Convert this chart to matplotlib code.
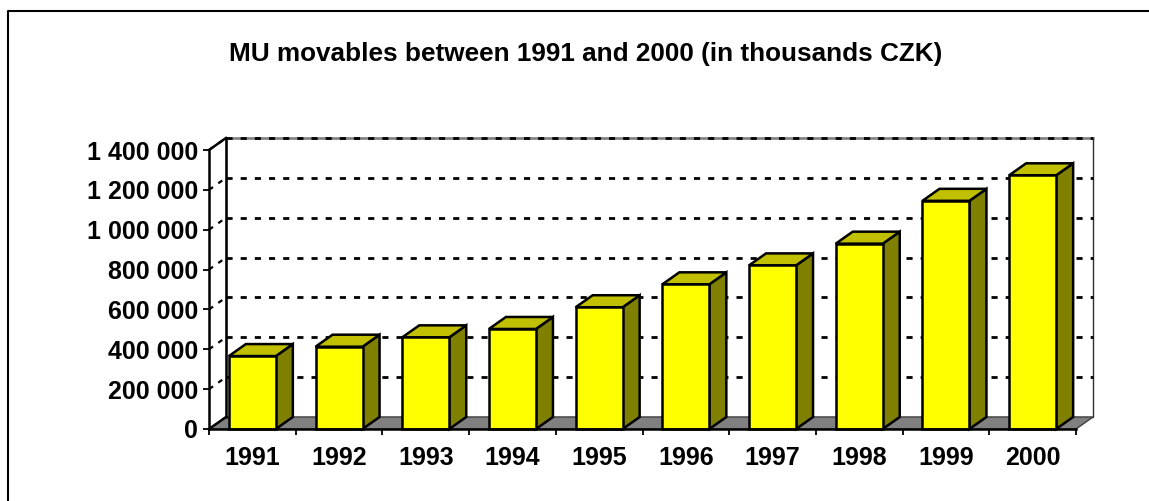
import numpy as np
import matplotlib
matplotlib.use("Agg")
import matplotlib.pyplot as plt
from matplotlib.patches import Polygon, Rectangle
from matplotlib.lines import Line2D
from matplotlib.ticker import FuncFormatter

# data (thousands CZK)
years = ["1991", "1992", "1993", "1994", "1995", "1996", "1997", "1998", "1999", "2000"]
values = [366000, 413000, 460000, 502000, 611000, 726000, 821000, 930000, 1145000, 1273000]
y_ticks = [0, 200000, 400000, 600000, 800000, 1000000, 1200000, 1400000]
title = "MU movables between 1991 and 2000 (in thousands CZK)"

W, H = 1149, 501
plt.rcParams["font.family"] = ["Liberation Sans", "DejaVu Sans"]
plt.rcParams["font.weight"] = "bold"

fig = plt.figure(figsize=(W / 100, H / 100), dpi=100)
ax = fig.add_axes([209 / W, (H - 429) / H, 867 / W, 279 / H])
n = len(years)
ymax = y_ticks[-1]
ax.set_xlim(0, n)
ax.set_ylim(0, ymax)
ax.patch.set_visible(False)

# fake 3d depth, in data units
dx = 17 / (867 / n)
dy = 12 * ymax / 279

yellow = "#ffff00"
top_col = "#c0c000"
side_col = "#808000"
floor_col = "#808080"
edge_lw = 1.8
dash = (0, (2.2, 2.9))

# left wall
ax.add_patch(Polygon([(0, 0), (0, ymax), (dx, ymax + dy), (dx, dy)],
                     closed=True, facecolor="white", edgecolor="none", zorder=1, clip_on=False))
ax.plot([0, dx], [ymax, ymax + dy], color="black", lw=edge_lw, zorder=3, clip_on=False)

# back wall
ax.add_patch(Rectangle((dx, dy), n, ymax, facecolor="white", edgecolor="#303030",
                       lw=1.0, zorder=1, clip_on=False))
ax.plot([dx, dx], [dy, ymax + dy], color="black", lw=edge_lw, zorder=3, clip_on=False)
ax.plot([dx, n + dx], [ymax + dy, ymax + dy], color="#808080", lw=1.8, zorder=2, clip_on=False)

# floor
ax.add_patch(Polygon([(0, 0), (n, 0), (n + dx, dy), (dx, dy)], closed=True,
                     facecolor=floor_col, edgecolor="#404040", lw=1.0, zorder=2, clip_on=False))
ax.plot([0, dx], [0, dy], color="black", lw=edge_lw, zorder=3, clip_on=False)

# dotted gridlines on back and side wall
for t in y_ticks[1:]:
    ax.plot([dx, n + dx], [t + dy, t + dy], color="black", lw=2.0,
            linestyle=dash, zorder=2.5, clip_on=False)
    ax.plot([0, dx], [t, t + dy], color="black", lw=1.6,
            linestyle=dash, zorder=2.5, clip_on=False)

# bars with top and side faces
bw = 0.542
xs = np.arange(n) + 0.5
ax.bar(xs, values, width=bw, color=yellow, edgecolor="black", lw=edge_lw, zorder=5, clip_on=False)
for x, v in zip(xs, values):
    x0, x1 = x - bw / 2, x + bw / 2
    ax.add_patch(Polygon([(x1, 0), (x1 + dx, dy), (x1 + dx, v + dy), (x1, v)], closed=True,
                         facecolor=side_col, edgecolor="black", lw=edge_lw, zorder=4, clip_on=False))
    ax.add_patch(Polygon([(x0, v), (x1, v), (x1 + dx, v + dy), (x0 + dx, v + dy)], closed=True,
                         facecolor=top_col, edgecolor="black", lw=edge_lw, zorder=4, clip_on=False))

# axes
for s in ["top", "right"]:
    ax.spines[s].set_visible(False)
ax.spines["left"].set_linewidth(edge_lw)
ax.spines["bottom"].set_linewidth(edge_lw)
ax.spines["left"].set_zorder(6)
ax.spines["bottom"].set_zorder(6)

ax.set_yticks(y_ticks)
ax.yaxis.set_major_formatter(FuncFormatter(lambda v, p: f"{v:,.0f}".replace(",", " ")))
ax.tick_params(axis="y", direction="out", length=4.3, width=1.3, pad=3.5, labelsize=18)

ax.set_xticks(np.arange(n + 1))
ax.set_xticklabels([])
ax.set_xticks(xs, minor=True)
ax.set_xticklabels(years, minor=True)
ax.tick_params(axis="x", which="major", direction="out", length=4.3, width=1.3)
ax.tick_params(axis="x", which="minor", length=0, pad=12, labelsize=18)

for lab in ax.get_yticklabels() + ax.get_xticklabels(minor=True):
    lab.set_fontweight("bold")

fig.text(585.5 / W, (H - 54.3) / H, title, ha="center", va="center",
         fontsize=18.8, fontweight="bold")

# outer frame, only top and left edges fall inside the picture
fx, fy = 7.5 / W, (H - 11) / H
fig.add_artist(Line2D([fx, fx, 1.0], [0.0, fy, fy], transform=fig.transFigure,
                      color="black", lw=1.5))

fig.savefig("out.png", dpi=100)
